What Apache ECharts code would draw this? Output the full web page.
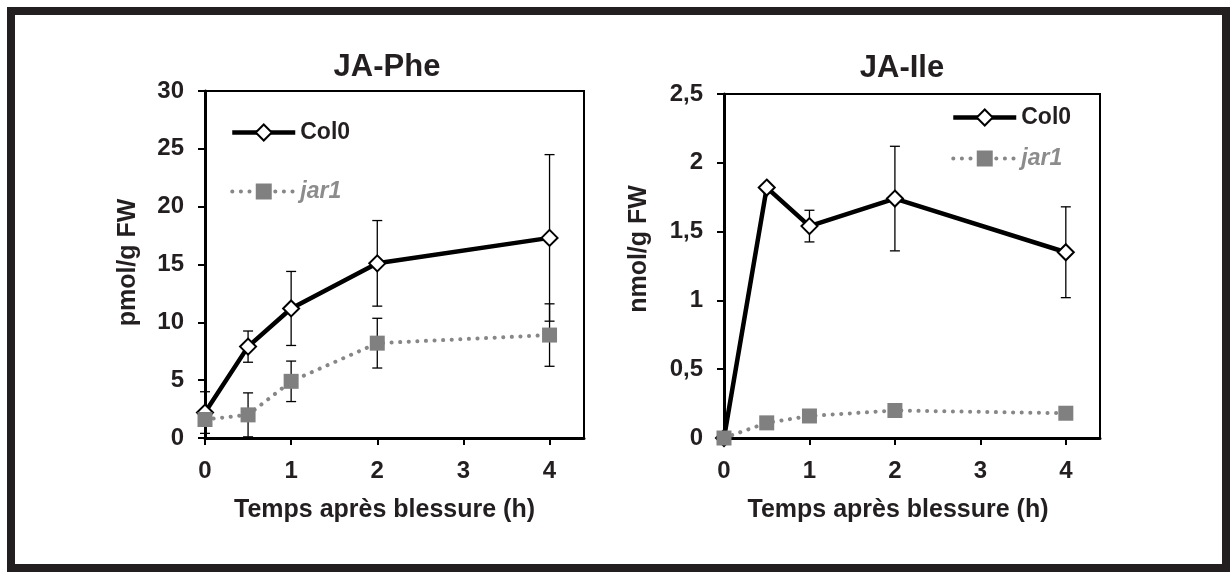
<!DOCTYPE html>
<html><head><meta charset="utf-8">
<script src="https://cdn.jsdelivr.net/npm/echarts@6/dist/echarts.min.js"></script>
<style>html,body{margin:0;padding:0;background:#fff}#c{width:1232px;height:572px}</style>
</head><body><div id="c"></div>
<script>
// ---- data ----
const times = [0, 0.5, 1, 2, 4];
const xTicks = [0, 1, 2, 3, 4];
const pheCol0 = [2.2, 7.9, 11.2, 15.1, 17.3];
const pheCol0Err = [1.8, 1.35, 3.2, 3.7, 7.2];
const pheJar1 = [1.6, 2.0, 4.9, 8.2, 8.9];
const pheJar1Err = [0.3, 1.9, 1.75, 2.15, 2.7];
const ileCol0 = [0, 1.82, 1.54, 1.74, 1.35];
const ileCol0Err = [0, 0, 0.115, 0.38, 0.33];
const ileJar1 = [0, 0.11, 0.16, 0.20, 0.18];
const ileJar1Err = [0, 0.02, 0.02, 0.02, 0.02];
const titles = ['JA-Phe', 'JA-Ile'];
const yNames = ['pmol/g FW', 'nmol/g FW'];
const xName = 'Temps après blessure (h)';
const seriesNames = ['Col0', 'jar1'];

// ---- helpers ----
const FONT = "'Liberation Sans', Arial, Helvetica, sans-serif";
const TXT = '#231f20';
const GRAY = '#808080';
const pts = (vals) => times.map((t, i) => [t, vals[i]]);
const errs = (vals, e) => times.map((t, i) => [t, vals[i] - e[i], vals[i] + e[i], e[i]]).filter(d => d[3] > 0);

function errRender(params, api) {
  const x = api.value(0), lo = api.value(1), hi = api.value(2);
  const p1 = api.coord([x, hi]), p2 = api.coord([x, lo]);
  const w = 5;
  const style = { stroke: '#000', lineWidth: 1.3, fill: null };
  return { type: 'group', children: [
    { type: 'line', shape: { x1: p1[0], y1: p1[1], x2: p2[0], y2: p2[1] }, style },
    { type: 'line', shape: { x1: p1[0] - w, y1: p1[1], x2: p1[0] + w, y2: p1[1] }, style },
    { type: 'line', shape: { x1: p2[0] - w, y1: p2[1], x2: p2[0] + w, y2: p2[1] }, style }
  ]};
}

function xAxisCfg(idx, shift) {
  return {
    type: 'value', gridIndex: idx, min: 0, max: 4.4, interval: 1,
    name: xName, nameLocation: 'middle', nameGap: 60,
    nameTextStyle: { fontSize: 25, fontWeight: 'bold', color: TXT, fontFamily: FONT, padding: [0, shift, 0, 0] },
    axisLine: { onZero: false, lineStyle: { color: '#000', width: 3 } },
    axisTick: { customValues: xTicks, length: 7, lineStyle: { color: '#000', width: 2 } },
    axisLabel: { customValues: xTicks, fontSize: 24, fontWeight: 'bold', color: TXT, fontFamily: FONT, margin: 21 },
    splitLine: { show: false }
  };
}
function yAxisCfg(idx, max, interval, nameGap, pad, fmt) {
  return {
    type: 'value', gridIndex: idx, min: 0, max: max, interval: interval,
    name: yNames[idx], nameLocation: 'middle', nameGap: nameGap,
    nameTextStyle: { fontSize: 25, fontWeight: 'bold', color: TXT, fontFamily: FONT, padding: pad },
    axisLine: { show: true, lineStyle: { color: '#000', width: 3 } },
    axisTick: { show: true, length: 7, lineStyle: { color: '#000', width: 2 } },
    axisLabel: { fontSize: 24, fontWeight: 'bold', color: TXT, fontFamily: FONT, margin: 21, formatter: fmt },
    splitLine: { show: false }
  };
}
function col0Series(idx, vals) {
  return { type: 'line', name: seriesNames[0], xAxisIndex: idx, yAxisIndex: idx, data: pts(vals),
    symbol: 'diamond', symbolSize: 16, z: 3,
    itemStyle: { color: '#fff', borderColor: '#000', borderWidth: 2 },
    lineStyle: { color: '#000', width: 4.5 } };
}
function jar1Series(idx, vals) {
  return { type: 'line', name: seriesNames[1], xAxisIndex: idx, yAxisIndex: idx, data: pts(vals),
    symbol: 'rect', symbolSize: 15, z: 4,
    itemStyle: { color: GRAY },
    lineStyle: { color: '#878787', width: 4, type: [0.1, 8.5], cap: 'round' } };
}
function errSeries(idx, vals, e) {
  return { type: 'custom', xAxisIndex: idx, yAxisIndex: idx, data: errs(vals, e), renderItem: errRender,
    encode: { x: 0, y: [1, 2] }, z: 1, silent: true };
}
function legendCfg(left, top, gap) {
  return { left: left, top: top, orient: 'vertical', itemGap: gap, itemWidth: 63, itemHeight: 20, padding: 0,
    selectedMode: false,
    lineStyle: { width: 'inherit' },
    textStyle: { fontSize: 23, fontWeight: 'bold', color: TXT, fontFamily: FONT },
    data: [ { name: seriesNames[0] },
            { name: seriesNames[1], textStyle: { color: '#8c8c8c', fontStyle: 'italic', fontSize: 23, fontWeight: 'bold' } } ] };
}

const chart = echarts.init(document.getElementById('c'), null, { renderer: 'canvas' });
chart.setOption({
  animation: false,
  backgroundColor: '#fff',
  textStyle: { fontFamily: FONT },
  title: [
    { text: titles[0], left: 387, top: 52, textAlign: 'center', padding: 0,
      textStyle: { fontSize: 31, fontWeight: 'bold', color: TXT, fontFamily: FONT } },
    { text: titles[1], left: 902, top: 53, textAlign: 'center', padding: 0,
      textStyle: { fontSize: 31, fontWeight: 'bold', color: TXT, fontFamily: FONT } }
  ],
  legend: [ legendCfg(230, 121, 36), legendCfg(951, 106, 18) ],
  grid: [
    { left: 205, top: 91, width: 379, height: 347, show: true, borderColor: '#000', borderWidth: 2, backgroundColor: 'transparent' },
    { left: 724, top: 94, width: 376, height: 344, show: true, borderColor: '#000', borderWidth: 2, backgroundColor: 'transparent' }
  ],
  xAxis: [ xAxisCfg(0, 20), xAxisCfg(1, 28) ],
  yAxis: [
    yAxisCfg(0, 30, 5, 64, [0, 0, 0, 4], null),
    yAxisCfg(1, 2.5, 0.5, 72, [0, 0, 0, 34], v => String(v).replace('.', ','))
  ],
  series: [
    errSeries(0, pheCol0, pheCol0Err),
    errSeries(0, pheJar1, pheJar1Err),
    col0Series(0, pheCol0),
    jar1Series(0, pheJar1),
    errSeries(1, ileCol0, ileCol0Err),
    errSeries(1, ileJar1, ileJar1Err),
    col0Series(1, ileCol0),
    jar1Series(1, ileJar1)
  ],
  graphic: [
    { type: 'rect', shape: { x: 11, y: 11, width: 1215, height: 557 },
      style: { fill: null, stroke: TXT, lineWidth: 8 }, z: 100, silent: true }
  ]
});
</script></body></html>
